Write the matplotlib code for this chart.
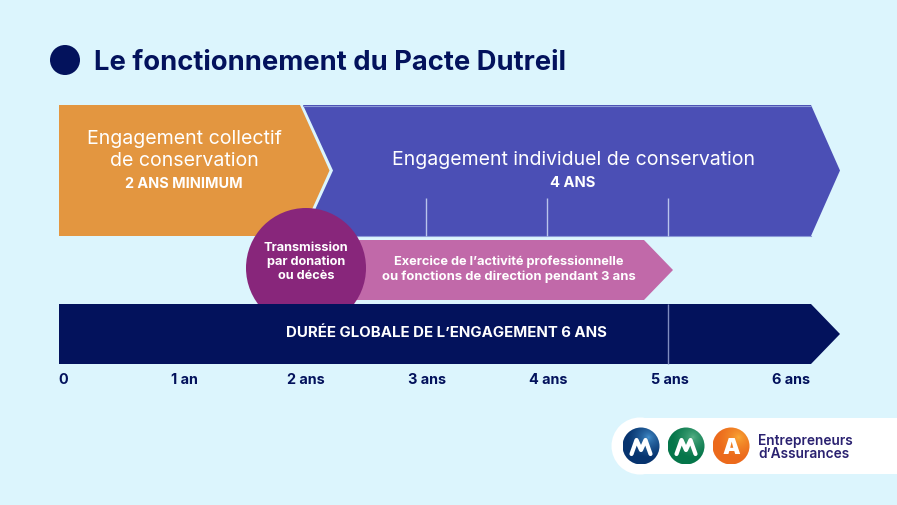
import matplotlib

matplotlib.use("Agg")

import matplotlib.pyplot as plt
import numpy as np
from matplotlib.colors import to_rgb
from matplotlib.patches import Ellipse, Polygon

# durations in years
YEARS = [0, 1, 2, 3, 4, 5, 6]
YEAR_LABELS = ["0", "1 an", "2 ans", "3 ans", "4 ans", "5 ans", "6 ans"]
INDIVIDUAL_MARKS = [3, 4, 5]
GLOBAL_MARKS = [5]

BG = "#DCF5FD"
ORANGE = "#E39640"
BLUE = "#4B4FB5"
PURPLE = "#88267B"
PINK = "#C169A9"
NAVY = "#03125C"
LINE = "#8C9AD8"
FONT = ["Inter", "DejaVu Sans"]

PX_PER_YEAR = 121.1
LABEL_PX_PER_YEAR = 121.4
X0 = 62.8


def yr(px):
    return (px - X0) / PX_PER_YEAR


def shape(ax, points, color, zorder=2):
    ax.add_patch(Polygon([(yr(x), y) for x, y in points], closed=True, fc=color, ec="none", zorder=zorder))


def disc(ax, cx, cy, r, color, zorder=2):
    ax.add_patch(Ellipse((yr(cx), cy), 2 * r / PX_PER_YEAR, 2 * r, fc=color, ec="none", zorder=zorder))


def label(ax, x, y, text, size, weight="bold", color="white", ha="center", zorder=7):
    ax.text(yr(x), y, text, color=color, fontsize=size, fontweight=weight, ha=ha, va="center", family=FONT, zorder=zorder)


def ball(ax, cx, cy, r, dark, light):
    # radial shading with highlight towards upper right
    n = 120
    gx, gy = np.meshgrid(np.linspace(-1, 1, n), np.linspace(-1, 1, n))
    d = np.clip(np.hypot(gx - 0.35, gy + 0.45) / 1.1, 0, 1)
    c0, c1 = np.array(to_rgb(light)), np.array(to_rgb(dark))
    img = c0 + (c1 - c0) * d[..., None] ** 0.55
    rx = r / PX_PER_YEAR
    im = ax.imshow(img, extent=[yr(cx) - rx, yr(cx) + rx, cy + r, cy - r], zorder=5, aspect="auto")
    clip = Ellipse((yr(cx), cy), 2 * rx, 2 * r, fc="none", ec="none")
    ax.add_patch(clip)
    im.set_clip_path(clip)


def logo_m(ax, cx, cy):
    xs = [-9.5, -4.5, 0, 4.5, 9.5]
    ys = [7, -7, 3, -7, 7]
    ax.plot([yr(cx + x) for x in xs], [cy + y for y in ys], color="white", lw=3.0, solid_joinstyle="round", solid_capstyle="round", zorder=6)


fig = plt.figure(figsize=(8.97, 5.05), dpi=100, facecolor=BG)
ax = fig.add_axes([0, 0, 1, 1])
ax.axis("off")

# title
disc(ax, 65, 60, 15, NAVY)
label(ax, 94, 62.5, "Le fonctionnement du Pacte Dutreil", 19.7, color=NAVY, ha="left")

# top row
shape(ax, [(303, 105), (811, 105), (840, 170.5), (811, 236), (303, 236), (333, 170.5)], BLUE)
ax.plot([yr(303), yr(811)], [105.5, 105.5], color=LINE, lw=0.8, zorder=3)
ax.plot([yr(303), yr(811)], [235.5, 235.5], color=LINE, lw=0.8, zorder=3)
shape(ax, [(59, 105), (300, 105), (329.5, 170.5), (300, 236), (59, 236)], ORANGE)
ax.vlines(INDIVIDUAL_MARKS, 198, 236, color="#B9C4EC", lw=1.0, zorder=3)

label(ax, 184, 139, "Engagement collectif", 14.1, "normal")
label(ax, 184, 161, "de conservation", 14.1, "normal")
label(ax, 184, 184, "2 ANS MINIMUM", 10.4)
label(ax, 573, 160, "Engagement individuel de conservation", 14.0, "normal")
label(ax, 573, 183, "4 ANS", 10.6)

# activity arrow and transmission disc
shape(ax, [(340, 240), (644, 240), (673, 270), (644, 300), (340, 300)], PINK)
disc(ax, 306, 268, 60, PURPLE, zorder=3)
for y, text in zip([248, 262, 276], ["Transmission", "par donation", "ou décès"]):
    label(ax, 306, y, text, 9.2)
label(ax, 509, 262, "Exercice de l’activité professionnelle", 9.2)
label(ax, 509, 276.5, "ou fonctions de direction pendant 3 ans", 9.4)

# global bar
shape(ax, [(59, 304), (811, 304), (840, 334), (811, 364), (59, 364)], NAVY, zorder=4)
ax.vlines(GLOBAL_MARKS, 304, 364, color="#7F8CBF", lw=1.0, zorder=5)
label(ax, 446, 333, "DURÉE GLOBALE DE L’ENGAGEMENT 6 ANS", 10.8)

# year scale
for year, text in zip(YEARS, YEAR_LABELS):
    label(ax, X0 + year * LABEL_PX_PER_YEAR, 380.5, text, 10.4, color=NAVY)

# logo pill
shape(ax, [(640, 418), (920, 418), (920, 474), (640, 474)], "white", zorder=4)
disc(ax, 640, 446, 28.5, "white", zorder=4)
ball(ax, 641, 446, 18.5, "#07346F", "#4C9BD8")
ball(ax, 686, 446, 18.5, "#06764A", "#63B98F")
ball(ax, 731, 446, 18.5, "#EC6A1C", "#FBB23A")
logo_m(ax, 641, 447)
logo_m(ax, 686, 447)
label(ax, 731, 447.5, "A", 16, "black")
label(ax, 758, 441, "Entrepreneurs", 9.9, "semibold", color="#2A2170", ha="left")
label(ax, 758, 453.5, "d’Assurances", 9.9, "semibold", color="#2A2170", ha="left")

ax.set_xlim(yr(0), yr(897))
ax.set_ylim(505, 0)

fig.savefig("out.png", dpi=100, facecolor=BG)
plt.close(fig)
